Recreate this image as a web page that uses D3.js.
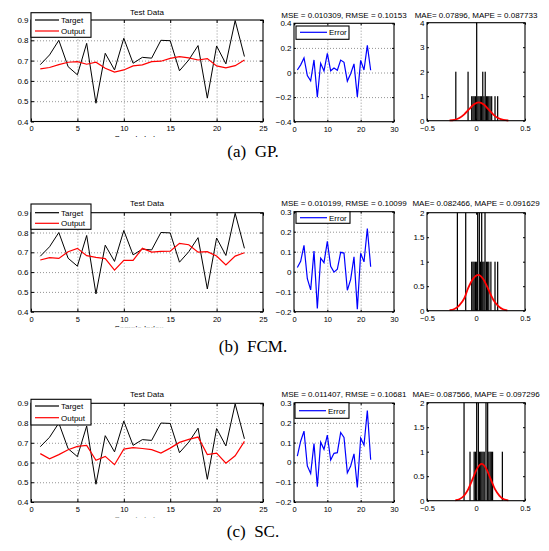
<!DOCTYPE html>
<html>
<head>
<meta charset="utf-8">
<script src="https://cdn.jsdelivr.net/npm/d3@7"></script>
<style>
body { margin: 0; background: #fff; }
svg { display: block; font-family: "Liberation Sans", Arial, sans-serif; }
</style>
</head>
<body>
<svg id="chart" width="549" height="551"></svg>
<script>
// ---- data ----
var sampleIndex = [1, 2, 3, 4, 5, 6, 7, 8, 9, 10, 11, 12, 13, 14, 15, 16, 17, 18, 19, 20, 21, 22, 23];
var target = [0.68, 0.728, 0.80, 0.67, 0.63, 0.785, 0.49, 0.736, 0.654, 0.81, 0.687, 0.716,
              0.712, 0.80, 0.798, 0.65, 0.703, 0.774, 0.515, 0.772, 0.684, 0.897, 0.72];

var outputGP  = [0.659, 0.666, 0.68, 0.692, 0.695, 0.682, 0.692, 0.662, 0.643, 0.654, 0.674, 0.679,
                 0.695, 0.697, 0.711, 0.72, 0.713, 0.703, 0.71, 0.674, 0.664, 0.675, 0.703];
var outputFCM = [0.661, 0.673, 0.669, 0.703, 0.72, 0.683, 0.674, 0.668, 0.61, 0.659, 0.659, 0.72,
                 0.701, 0.705, 0.706, 0.745, 0.738, 0.701, 0.703, 0.681, 0.636, 0.681, 0.698];
var outputSC  = [0.645, 0.619, 0.64, 0.665, 0.682, 0.687, 0.611, 0.631, 0.589, 0.668, 0.675, 0.671,
                 0.665, 0.648, 0.673, 0.702, 0.717, 0.729, 0.64, 0.648, 0.597, 0.634, 0.707];

var errorGP  = [0.02, 0.062, 0.118, -0.025, -0.068, 0.102, -0.2, 0.075, 0.013, 0.155, 0.014, 0.036,
                0.018, 0.101, 0.083, -0.07, -0.01, 0.07, -0.198, 0.099, 0.02, 0.221, 0.018];
var errorFCM = [0.021, 0.052, 0.132, -0.035, -0.091, 0.103, -0.184, 0.068, 0.045, 0.152, 0.027, -0.002,
                0.012, 0.097, 0.093, -0.093, -0.038, 0.074, -0.188, 0.092, 0.049, 0.216, 0.025];
var errorSC  = [0.032, 0.107, 0.158, -0.018, -0.056, 0.095, -0.123, 0.102, 0.066, 0.138, 0.012, 0.046,
                0.049, 0.151, 0.126, -0.053, -0.018, 0.043, -0.126, 0.123, 0.088, 0.262, 0.013];

// histogram bins (centre, count)
var histGPCenters  = [-0.206, -0.081, -0.044, -0.031, -0.019, -0.006, 0.007, 0.019, 0.031, 0.044, 0.056,
                      0.069, 0.081, 0.094, 0.106, 0.119, 0.131, 0.144, 0.16, 0.194, 0.221];
var histGPCounts   = [2, 2, 1, 1, 1, 1, 4, 1, 1, 1, 1, 2, 1, 2, 1, 1, 1, 1, 1, 1, 1];
var histFCMCenters = [-0.19, -0.105, -0.044, -0.031, -0.019, -0.006, 0.007, 0.017, 0.034, 0.046, 0.058,
                      0.069, 0.081, 0.092, 0.106, 0.119, 0.131, 0.152, 0.194, 0.221];
var histFCMCounts  = [2, 2, 1, 1, 1, 1, 1, 2, 2, 1, 2, 1, 1, 2, 1, 1, 1, 1, 1, 1];
var histSCCenters  = [-0.122, -0.061, -0.019, -0.006, 0.007, 0.024, 0.036, 0.048, 0.06, 0.072, 0.084,
                      0.102, 0.119, 0.131, 0.144, 0.156, 0.169, 0.269];
var histSCCounts   = [2, 1, 1, 1, 2, 2, 1, 1, 1, 1, 1, 2, 2, 1, 1, 1, 1, 1];

// fitted normal curve
var fitGPx  = [-0.27, -0.22, -0.17, -0.12, -0.07, -0.02, 0.028, 0.08, 0.13, 0.18, 0.23, 0.28, 0.33];
var fitGPy  = [0.01, 0.036, 0.11, 0.26, 0.47, 0.67, 0.75, 0.66, 0.45, 0.24, 0.10, 0.033, 0.008];
var fitFCMx = [-0.27, -0.22, -0.17, -0.12, -0.08, -0.03, 0.024, 0.075, 0.125, 0.175, 0.225, 0.275, 0.32];
var fitFCMy = [0.01, 0.035, 0.11, 0.25, 0.46, 0.65, 0.73, 0.64, 0.44, 0.23, 0.10, 0.03, 0.008];
var fitSCx  = [-0.21, -0.17, -0.12, -0.08, -0.035, 0.01, 0.058, 0.105, 0.15, 0.195, 0.24, 0.285, 0.33];
var fitSCy  = [0.009, 0.03, 0.106, 0.23, 0.44, 0.65, 0.75, 0.65, 0.44, 0.23, 0.10, 0.03, 0.008];

// titles and captions
var mseTitles = ["MSE = 0.010309, RMSE = 0.10153", "MSE = 0.010199, RMSE = 0.10099", "MSE = 0.011407, RMSE = 0.10681"];
var maeTitles = ["MAE= 0.07896, MAPE = 0.087733", "MAE= 0.082466, MAPE = 0.091629", "MAE= 0.087566, MAPE = 0.097296"];
var captionTags  = ["(a)", "(b)", "(c)"];
var captionNames = ["GP.", "FCM.", "SC."];

// tick values
var testXTicks = [0, 5, 10, 15, 20, 25];
var testYTicks = [0.4, 0.5, 0.6, 0.7, 0.8, 0.9];
var errXTicks = [0, 10, 20, 30];
var errYTicksGP = [-0.4, -0.2, 0, 0.2, 0.4];
var errYTicksOther = [-0.2, -0.1, 0, 0.1, 0.2, 0.3];
var histXTicks = [-0.5, 0, 0.5];
var histYTicksGP = [0, 1, 2, 3, 4];
var histYTicksOther = [0, 0.5, 1, 1.5, 2];

// ---- assemble rows ----
var rows = [
  {output: outputGP, error: errorGP, errTicks: errYTicksGP, hc: histGPCenters, hn: histGPCounts,
   hTicks: histYTicksGP, fx: fitGPx, fy: fitGPy},
  {output: outputFCM, error: errorFCM, errTicks: errYTicksOther, hc: histFCMCenters, hn: histFCMCounts,
   hTicks: histYTicksOther, fx: fitFCMx, fy: fitFCMy},
  {output: outputSC, error: errorSC, errTicks: errYTicksOther, hc: histSCCenters, hn: histSCCounts,
   hTicks: histYTicksOther, fx: fitSCx, fy: fitSCy}
];

// pixel layout per row: boxes are [left, right, top, bottom]
var layout = [
  {p1: [31, 263, 20, 121.5], p2: [294, 394, 23.3, 121.7], p3: [427, 525, 22.7, 120.7],
   leg1: [31, 91, 12.7, 37.3], lineT: 20, lineO: 31, leg2: [296, 349, 26, 39.3], lineE: 32.3,
   t1: 15, t2: 18, caption: 157},
  {p1: [31, 263, 212.7, 311.7], p2: [294, 394, 211.7, 311.7], p3: [427, 525, 212.7, 310.7],
   leg1: [31, 91, 204, 229.3], lineT: 212.7, lineO: 223.3, leg2: [296, 350, 211.7, 223.3], lineE: 217.7,
   t1: 206.3, t2: 205.7, caption: 352},
  {p1: [31, 263, 403.3, 502], p2: [294, 394, 403, 502], p3: [427, 525, 402.7, 500.7],
   leg1: [31, 91, 399.3, 425], lineT: 406, lineO: 417.7, leg2: [295, 349, 402.7, 418.3], lineE: 410.7,
   t1: 397, t2: 397, caption: 536.7}
];

var svg = d3.select("#chart");
var fmt = d3.format("~g");
var binW = 0.0125;

// axes box with matlab-like inward ticks on all four sides
function makeAxes(b, xDom, yDom, xTicks, yTicks, tick, grid) {
    var x = d3.scaleLinear().domain(xDom).range([b[0], b[1]]);
    var y = d3.scaleLinear().domain(yDom).range([b[3], b[2]]);
    var w = b[1] - b[0], h = b[3] - b[2];
    var g = svg.append("g");

    if (grid) {
        g.append("g")
            .attr("transform", "translate(0," + b[3] + ")")
            .call(d3.axisBottom(x).tickValues(xTicks.slice(1, -1)).tickSize(-h).tickFormat(""))
            .call(function(s) { s.select(".domain").remove(); });
        g.append("g")
            .attr("transform", "translate(" + b[0] + ",0)")
            .call(d3.axisLeft(y).tickValues(yTicks.slice(1, -1)).tickSize(-w).tickFormat(""))
            .call(function(s) { s.select(".domain").remove(); });
        g.selectAll("line")
            .attr("stroke", "#777")
            .attr("stroke-width", 0.8)
            .attr("stroke-dasharray", "1,2");
    }
    var plot = svg.append("g");

    var frame = svg.append("g");
    frame.append("rect")
        .attr("x", b[0]).attr("y", b[2]).attr("width", w).attr("height", h)
        .attr("fill", "none").attr("stroke", "#000").attr("stroke-width", 1.1);

    var bottom = frame.append("g").attr("transform", "translate(0," + b[3] + ")")
        .call(d3.axisBottom(x).tickValues(xTicks).tickSizeInner(-tick).tickSizeOuter(0)
            .tickPadding(4.5).tickFormat(fmt));
    frame.append("g").attr("transform", "translate(0," + b[2] + ")")
        .call(d3.axisTop(x).tickValues(xTicks).tickSizeInner(-tick).tickSizeOuter(0).tickFormat(""));
    var left = frame.append("g").attr("transform", "translate(" + b[0] + ",0)")
        .call(d3.axisLeft(y).tickValues(yTicks).tickSizeInner(-tick).tickSizeOuter(0)
            .tickPadding(2.5).tickFormat(fmt));
    frame.append("g").attr("transform", "translate(" + b[1] + ",0)")
        .call(d3.axisRight(y).tickValues(yTicks).tickSizeInner(-tick).tickSizeOuter(0).tickFormat(""));
    frame.selectAll(".domain").remove();
    frame.selectAll(".tick line").attr("stroke", "#000");
    frame.selectAll(".tick text")
        .attr("fill", "#000")
        .style("font-family", "'Liberation Sans', Arial, sans-serif");
    bottom.selectAll(".tick text").style("font-size", "7.5px");
    left.selectAll(".tick text").style("font-size", "8px");

    return {x: x, y: y, plot: plot, frame: frame};
}

function legend(box, items) {
    var g = svg.append("g");
    g.append("rect")
        .attr("x", box[0]).attr("y", box[2])
        .attr("width", box[1] - box[0]).attr("height", box[3] - box[2])
        .attr("fill", "#fff").attr("stroke", "#000").attr("stroke-width", 1.1);
    items.forEach(function(it) {
        g.append("line")
            .attr("x1", box[0] + it.x0).attr("x2", box[0] + it.x1)
            .attr("y1", it.y).attr("y2", it.y)
            .attr("stroke", it.color).attr("stroke-width", 1.2);
        g.append("text")
            .attr("x", box[0] + it.x1 + 2).attr("y", it.y + 3)
            .style("font-size", "8px")
            .text(it.label);
    });
}

rows.forEach(function(r, i) {
    var L = layout[i];

    // ---- Test Data ----
    var a = makeAxes(L.p1, [0, 25], [0.4, 0.9], testXTicks, testYTicks, 3, true);
    var lineT = d3.line()
        .x(function(d, k) { return a.x(sampleIndex[k]); })
        .y(function(d) { return a.y(d); });
    a.plot.append("path").datum(target)
        .attr("d", lineT).attr("fill", "none").attr("stroke", "#000").attr("stroke-width", 1);
    a.plot.append("path").datum(r.output)
        .attr("d", lineT).attr("fill", "none").attr("stroke", "#f00").attr("stroke-width", 1.2);
    svg.append("text")
        .attr("x", (L.p1[0] + L.p1[1]) / 2).attr("y", L.t1)
        .attr("text-anchor", "middle").style("font-size", "8px")
        .text("Test Data");
    legend(L.leg1, [
        {x0: 4, x1: 28, y: L.lineT, color: "#000", label: "Target"},
        {x0: 4, x1: 28, y: L.lineO, color: "#f00", label: "Output"}
    ]);

    // x label, cut off by the bottom of the sub-figure
    var clipId = "cut" + i;
    svg.append("clipPath").attr("id", clipId)
        .append("rect")
        .attr("x", 0).attr("y", L.p1[3] + 10).attr("width", 549).attr("height", 5.5);
    svg.append("text")
        .attr("clip-path", "url(#" + clipId + ")")
        .attr("x", 139).attr("y", L.p1[3] + 19.5)
        .attr("text-anchor", "middle").style("font-size", "8px")
        .text("Sample Index");

    // ---- Error ----
    var errDom = [r.errTicks[0], r.errTicks[r.errTicks.length - 1]];
    var e = makeAxes(L.p2, [0, 30], errDom, errXTicks, r.errTicks, 2, true);
    e.plot.append("path").datum(r.error)
        .attr("d", d3.line()
            .x(function(d, k) { return e.x(sampleIndex[k]); })
            .y(function(d) { return e.y(d); }))
        .attr("fill", "none").attr("stroke", "#00f").attr("stroke-width", 1.2);
    svg.append("text")
        .attr("x", (L.p2[0] + L.p2[1]) / 2).attr("y", L.t2)
        .attr("text-anchor", "middle").style("font-size", "8px")
        .text(mseTitles[i]);
    legend(L.leg2, [{x0: 4, x1: 31, y: L.lineE, color: "#00f", label: "Error"}]);

    // ---- Histogram with normal fit ----
    var hDom = [r.hTicks[0], r.hTicks[r.hTicks.length - 1]];
    var hst = makeAxes(L.p3, [-0.5, 0.5], hDom, histXTicks, r.hTicks, 2, false);
    hst.plot.selectAll("rect")
        .data(d3.zip(r.hc, r.hn))
        .join("rect")
        .attr("x", function(d) { return hst.x(d[0] - binW / 2); })
        .attr("width", function(d) { return hst.x(d[0] + binW / 2) - hst.x(d[0] - binW / 2); })
        .attr("y", function(d) { return hst.y(d[1]); })
        .attr("height", function(d) { return hst.y(0) - hst.y(d[1]); })
        .attr("fill", "#000");
    hst.plot.append("path").datum(d3.zip(r.fx, r.fy))
        .attr("d", d3.line()
            .x(function(d) { return hst.x(d[0]); })
            .y(function(d) { return hst.y(d[1]); })
            .curve(d3.curveMonotoneX))
        .attr("fill", "none").attr("stroke", "#f00").attr("stroke-width", 1.8);
    svg.append("text")
        .attr("x", (L.p3[0] + L.p3[1]) / 2).attr("y", L.t2)
        .attr("text-anchor", "middle").style("font-size", "8px")
        .text(maeTitles[i]);

    // ---- caption ----
    svg.append("text")
        .attr("x", 253).attr("y", L.caption)
        .attr("text-anchor", "middle")
        .style("font-family", "'Liberation Serif', 'Times New Roman', serif")
        .style("font-size", "17px")
        .text(captionTags[i] + "\u2002" + captionNames[i]);
});
</script>
</body>
</html>
